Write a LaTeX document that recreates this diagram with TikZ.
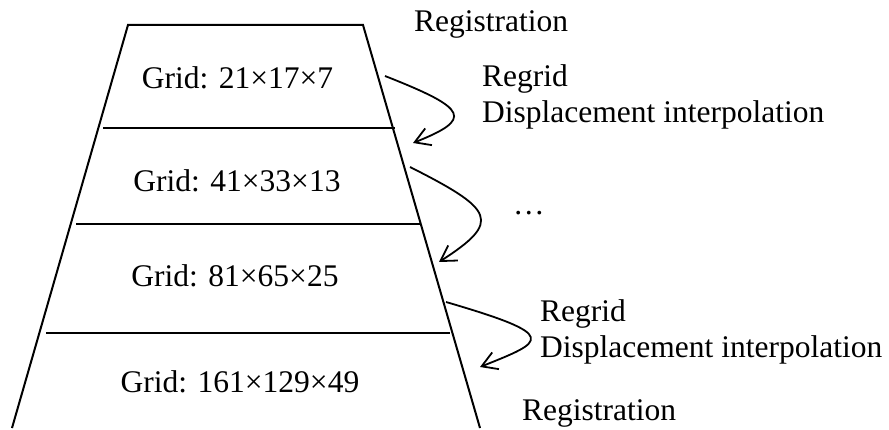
\documentclass[tikz,border=0pt]{standalone}
\usepackage{fontspec}
\setmainfont{Liberation Serif}
\usetikzlibrary{arrows.meta}
\begin{document}
\begin{tikzpicture}[x=1pt,y=-1pt,
  edge/.style={line width=2pt},
  flow/.style={line width=1.8pt,-{Straight Barb[length=15pt,width=18pt,line width=1.8pt]}},
  lbl/.style={inner sep=0pt,font=\fontsize{31.5}{36}\selectfont}]
\useasboundingbox (0,0) rectangle (889,430);
% trapezoid
\draw[edge,line join=miter] (12,428) -- (128,25) -- (363,25) -- (480,428);
\draw[edge] (103,128) -- (395,128);
\draw[edge] (76,224) -- (420,224);
\draw[edge] (46,333) -- (450,333);
% grid labels
\node[lbl,anchor=base] (g1) at (237.5,89) {Grid: 21×17×7};
\node[lbl,anchor=base] (g2) at (237,192) {Grid: 41×33×13};
\node[lbl,anchor=base] (g3) at (235,287) {Grid: 81×65×25};
\node[lbl,anchor=base] (g4) at (240,392) {Grid: 161×129×49};
% side labels
\node[lbl,anchor=base west] (r1) at (414,32) {Registration};
\node[lbl,anchor=base west] (rg1) at (482,87) {Regrid};
\node[lbl,anchor=base west] (d1) at (482,123) {Displacement interpolation};
\node[lbl,anchor=base west] (dots) at (513,215) {…};
\node[lbl,anchor=base west] (rg2) at (540,322) {Regrid};
\node[lbl,anchor=base west] (d2) at (540,358) {Displacement interpolation};
\node[lbl,anchor=base west] (r2) at (522,420) {Registration};
% arrows
\coordinate (a1s) at (385,76);
\coordinate (a1e) at (413,143);
\coordinate (a2s) at (410,167);
\coordinate (a2e) at (439,262);
\coordinate (a3s) at (446,302);
\coordinate (a3e) at (480,367);
\draw[flow] (a1s) .. controls (469,109) and (473,119) .. (a1e);
\draw[flow] (a2s) .. controls (494.5,209.7) and (502,221.5) .. (a2e);
\draw[flow] (a3s) .. controls (561,335.6) and (545,341) .. (a3e);
\end{tikzpicture}
\end{document}
